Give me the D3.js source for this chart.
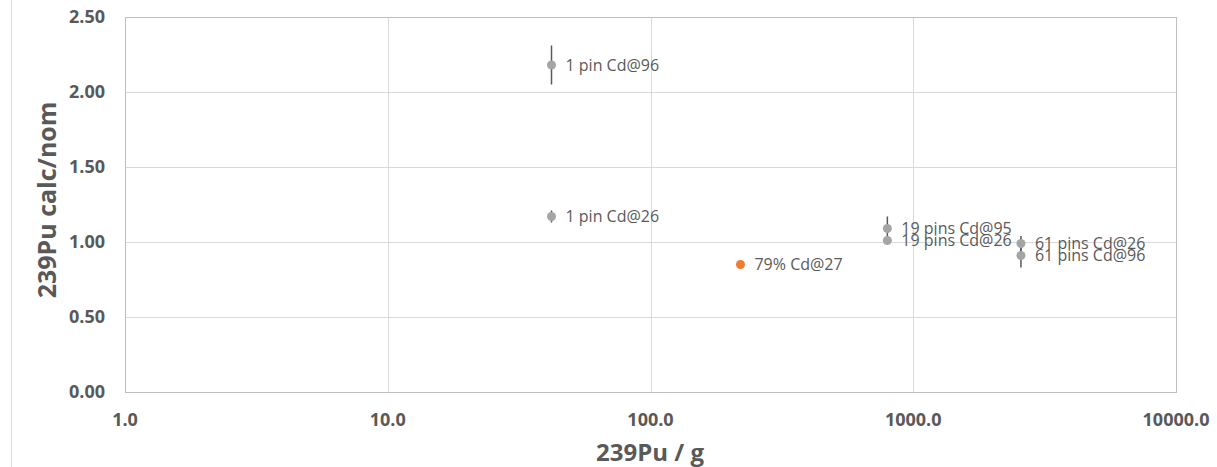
<!DOCTYPE html>
<html>
<head>
<meta charset="utf-8">
<script src="https://cdn.jsdelivr.net/npm/d3@7"></script>
<style>
  body { margin: 0; background: #fff; }
  svg { display: block; font-family: "Open Sans", "Noto Sans", sans-serif; }
</style>
</head>
<body>
<svg id="chart" width="1217" height="467"></svg>
<script>
// data
const labels = ["1 pin Cd@96", "1 pin Cd@26", "79% Cd@27", "19 pins Cd@95", "19 pins Cd@26", "61 pins Cd@26", "61 pins Cd@96"];
const puMass = [42, 42, 220, 797, 797, 2570, 2570];
const ratio = [2.18, 1.17, 0.85, 1.09, 1.01, 0.99, 0.91];
const errors = [0.13, 0.04, 0, 0.08, 0.02, 0.05, 0.08];
const highlight = [false, false, true, false, false, false, false];
const xTicks = [1, 10, 100, 1000, 10000];
const yTicks = [0, 0.5, 1, 1.5, 2, 2.5];

const points = labels.map((l, i) => ({ label: l, x: puMass[i], y: ratio[i], err: errors[i], hi: highlight[i] }));

const margin = { left: 125, right: 1176, top: 17, bottom: 392 };
const svg = d3.select("#chart");

const x = d3.scaleLog().domain([1, 10000]).range([margin.left, margin.right]);
const y = d3.scaleLinear().domain([0, 2.5]).range([margin.bottom, margin.top]);

// left page border
svg.append("line")
  .attr("x1", 11.5).attr("x2", 11.5)
  .attr("y1", 0).attr("y2", 467)
  .attr("stroke", "#d9d9d9").attr("stroke-width", 1);

// gridlines
svg.append("g")
  .selectAll("line")
  .data(yTicks)
  .enter()
  .append("line")
  .attr("x1", margin.left).attr("x2", margin.right)
  .attr("y1", d => Math.round(y(d)) + 0.5).attr("y2", d => Math.round(y(d)) + 0.5)
  .attr("stroke", "#d9d9d9");

svg.append("g")
  .selectAll("line")
  .data(xTicks)
  .enter()
  .append("line")
  .attr("x1", d => Math.round(x(d)) + 0.5).attr("x2", d => Math.round(x(d)) + 0.5)
  .attr("y1", margin.top).attr("y2", margin.bottom)
  .attr("stroke", "#d9d9d9");

// frame
svg.append("rect")
  .attr("x", margin.left + 0.5).attr("y", margin.top + 0.5)
  .attr("width", margin.right - margin.left).attr("height", margin.bottom - margin.top)
  .attr("fill", "none")
  .attr("stroke", "#bfbfbf");

// tick labels
svg.append("g")
  .selectAll("text")
  .data(yTicks)
  .enter()
  .append("text")
  .attr("x", 105)
  .attr("y", d => y(d))
  .attr("dy", "0.35em")
  .attr("text-anchor", "end")
  .attr("font-size", 18)
  .attr("font-weight", "bold")
  .attr("fill", "#595959")
  .text(d => d.toFixed(2));

svg.append("g")
  .selectAll("text")
  .data(xTicks)
  .enter()
  .append("text")
  .attr("x", d => x(d))
  .attr("y", 420)
  .attr("dy", "0.35em")
  .attr("text-anchor", "middle")
  .attr("font-size", 18)
  .attr("font-weight", "bold")
  .attr("fill", "#595959")
  .text(d => d.toFixed(1));

// axis titles
svg.append("text")
  .attr("transform", "translate(47,200) rotate(-90)")
  .attr("text-anchor", "middle")
  .attr("dy", "0.35em")
  .attr("font-size", 25)
  .attr("font-weight", "bold")
  .attr("fill", "#595959")
  .text("239Pu calc/nom");

svg.append("text")
  .attr("x", 650)
  .attr("y", 453)
  .attr("text-anchor", "middle")
  .attr("dy", "0.35em")
  .attr("font-size", 24)
  .attr("font-weight", "bold")
  .attr("fill", "#595959")
  .text("239Pu / g");

// error bars
svg.append("g")
  .selectAll("line")
  .data(points.filter(d => d.err > 0))
  .enter()
  .append("line")
  .attr("x1", d => x(d.x)).attr("x2", d => x(d.x))
  .attr("y1", d => y(d.y + d.err)).attr("y2", d => y(d.y - d.err))
  .attr("stroke", "#595959")
  .attr("stroke-width", 1.5);

// markers
svg.append("g")
  .selectAll("circle")
  .data(points)
  .enter()
  .append("circle")
  .attr("cx", d => x(d.x))
  .attr("cy", d => y(d.y))
  .attr("r", 4.5)
  .attr("fill", d => d.hi ? "#ed7d31" : "#a5a5a5");

// data labels
svg.append("g")
  .selectAll("text")
  .data(points)
  .enter()
  .append("text")
  .attr("x", d => x(d.x) + 14)
  .attr("y", d => y(d.y))
  .attr("dy", "0.35em")
  .attr("font-size", 16)
  .attr("fill", "#595959")
  .text(d => d.label);
</script>
</body>
</html>
